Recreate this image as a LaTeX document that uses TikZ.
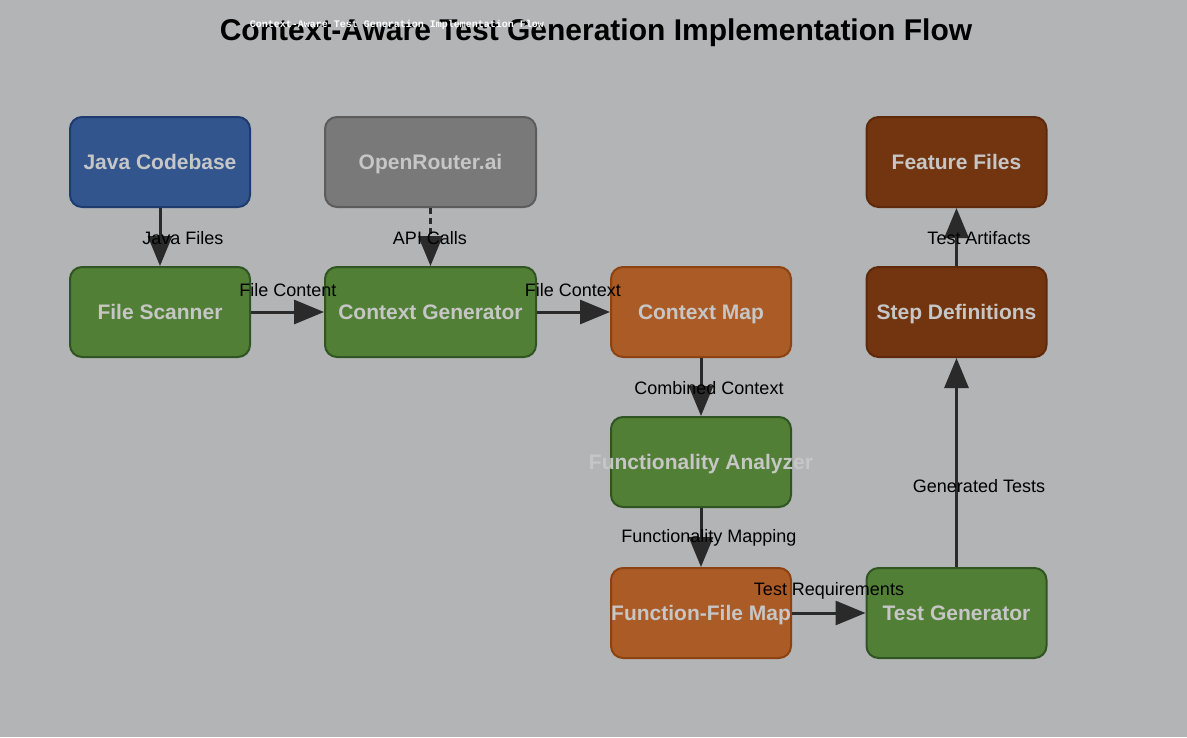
\documentclass[tikz,border=0pt]{standalone}
\usepackage{fontspec}
\setmainfont{Liberation Sans}
\newfontfamily\monofont{Liberation Mono}
\usetikzlibrary{arrows.meta}
\definecolor{bgc}{HTML}{B3B4B5}
\definecolor{bluef}{HTML}{33558E}
\definecolor{blued}{HTML}{1E3B70}
\definecolor{greenf}{HTML}{527F36}
\definecolor{greend}{HTML}{2F5522}
\definecolor{orangef}{HTML}{AB5B26}
\definecolor{oranged}{HTML}{8D4212}
\definecolor{brownf}{HTML}{72350F}
\definecolor{brownd}{HTML}{5E2A0B}
\definecolor{grayf}{HTML}{797979}
\definecolor{grayd}{HTML}{5C5C5C}
\definecolor{ntext}{HTML}{C6C6C6}
\definecolor{arrowc}{HTML}{2A2A2A}
\tikzset{
  box/.style={rounded corners=12pt, line width=2pt, minimum height=90pt, inner sep=0pt,
    text height=15pt, text depth=0pt,
    text=ntext, font=\fontsize{21}{24}\selectfont\bfseries},
  narrow/.style={minimum width=180pt},
  wide/.style={minimum width=211pt},
  bluebox/.style={box, fill=bluef, draw=blued},
  greenbox/.style={box, fill=greenf, draw=greend},
  orangebox/.style={box, fill=orangef, draw=oranged},
  brownbox/.style={box, fill=brownf, draw=brownd},
  graybox/.style={box, fill=grayf, draw=grayd},
  conn/.style={draw=arrowc, line width=3pt, -{Triangle[length=30pt, width=24pt]}},
  elabel/.style={font=\fontsize{18}{21}\selectfont, text=black, inner sep=0pt},
}
\begin{document}
\begin{tikzpicture}[x=1pt, y=-1pt]
\fill[bgc] (0,0) rectangle (1187,737);
\useasboundingbox (0,0) rectangle (1187,737);

\node[font=\fontsize{30}{34}\selectfont\bfseries, text=black] (title) at (596,33) {Context-Aware Test Generation Implementation Flow};
\node[font=\monofont\fontsize{10}{12}\selectfont\bfseries, text=white] (subtitle) at (397,25) {Context-Aware Test Generation Implementation Flow};

\node[bluebox, narrow] (java) at (160,162) {Java Codebase};
\node[graybox, wide] (open) at (430.5,162) {OpenRouter.ai};
\node[brownbox, narrow] (feat) at (956.5,162) {Feature Files};
\node[greenbox, narrow] (scan) at (160,312) {File Scanner};
\node[greenbox, wide] (cgen) at (430.5,312) {Context Generator};
\node[orangebox, narrow] (cmap) at (701,312) {Context Map};
\node[brownbox, narrow] (step) at (956.5,312) {Step Definitions};
\node[greenbox, narrow] (fa) at (701,462) {\makebox[0pt]{Functionality Analyzer}};
\node[orangebox, narrow] (ffm) at (701,613) {Function-File Map};
\node[greenbox, narrow] (tg) at (956.5,613) {Test Generator};

\draw[conn] (java) -- (scan);
\draw[conn, dash pattern=on 6pt off 4pt] (open) -- (cgen);
\draw[conn] (scan) -- (cgen);
\draw[conn] (cgen) -- (cmap);
\draw[conn] (cmap) -- (fa);
\draw[conn] (fa) -- (ffm);
\draw[conn] (ffm) -- (tg);
\draw[conn] (tg) -- (step);
\draw[conn] (step) -- (feat);

\node[elabel] (l1) at (183,238) {Java Files};
\node[elabel] (l2) at (430,238) {API Calls};
\node[elabel] (l3) at (288,290) {File Content};
\node[elabel] (l4) at (573,290) {File Context};
\node[elabel] (l5) at (709,388) {Combined Context};
\node[elabel] (l6) at (709,538) {Functionality Mapping};
\node[elabel] (l7) at (829,591) {Test Requirements};
\node[elabel] (l8) at (979,486) {Generated Tests};
\node[elabel] (l9) at (979,238) {Test Artifacts};
\end{tikzpicture}
\end{document}
